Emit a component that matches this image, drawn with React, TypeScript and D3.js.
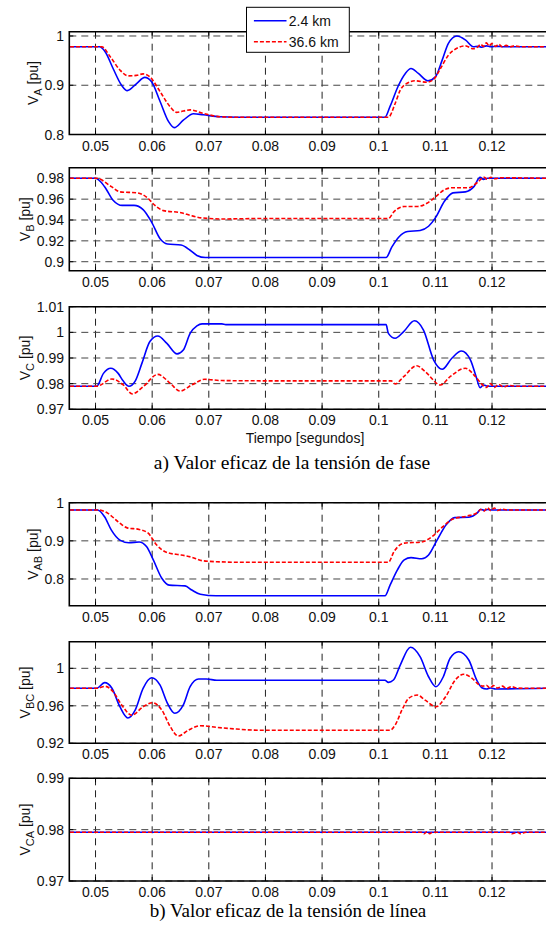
import React from "react";
import * as d3 from "d3";

type Pt = [number, number];

const TIME_TICKS = [0.05, 0.06, 0.07, 0.08, 0.09, 0.1, 0.11, 0.12];
const TIME_TICK_LABELS = ["0.05", "0.06", "0.07", "0.08", "0.09", "0.1", "0.11", "0.12"];
const SERIES_NAMES = ["2.4 km", "36.6 km"];

const VA_TICKS = [0.8, 0.9, 1];
const VB_TICKS = [0.9, 0.92, 0.94, 0.96, 0.98];
const VC_TICKS = [0.97, 0.98, 0.99, 1, 1.01];
const VAB_TICKS = [0.8, 0.9, 1];
const VBC_TICKS = [0.92, 0.96, 1];
const VCA_TICKS = [0.97, 0.98, 0.99];

const va24: Pt[] = [[0.0455,0.978],[0.0507,0.978],[0.0517,0.968],[0.0531,0.934],[0.0546,0.900],[0.0556,0.889],[0.0573,0.904],[0.0587,0.916],[0.0599,0.907],[0.0614,0.867],[0.0629,0.826],[0.0639,0.814],[0.0655,0.829],[0.0673,0.842],[0.0690,0.840],[0.0720,0.836],[0.0750,0.835],[0.1011,0.835],[0.1020,0.857],[0.1035,0.900],[0.1047,0.924],[0.1057,0.934],[0.1070,0.924],[0.1087,0.909],[0.1100,0.917],[0.1112,0.951],[0.1123,0.985],[0.1138,1.000],[0.1153,0.992],[0.1167,0.978],[0.1175,0.979],[0.1182,0.977],[0.1190,0.980],[0.1198,0.978],[0.1210,0.979],[0.1220,0.978],[0.1296,0.978]];
const va366: Pt[] = [[0.0455,0.978],[0.0511,0.978],[0.0526,0.958],[0.0543,0.931],[0.0558,0.919],[0.0572,0.920],[0.0584,0.923],[0.0596,0.917],[0.0614,0.887],[0.0632,0.856],[0.0643,0.845],[0.0667,0.850],[0.0690,0.843],[0.0720,0.836],[0.0750,0.835],[0.1017,0.835],[0.1029,0.863],[0.1038,0.890],[0.1050,0.904],[0.1064,0.909],[0.1085,0.906],[0.1097,0.912],[0.1109,0.934],[0.1123,0.961],[0.1138,0.975],[0.1153,0.980],[0.1167,0.974],[0.1175,0.978],[0.1180,0.983],[0.1185,0.979],[0.1190,0.986],[0.1195,0.980],[0.1200,0.985],[0.1206,0.979],[0.1212,0.983],[0.1218,0.978],[0.1225,0.981],[0.1232,0.978],[0.1240,0.980],[0.1250,0.978],[0.1296,0.978]];

const vb24: Pt[] = [[0.0455,0.98],[0.0500,0.98],[0.0516,0.972],[0.0531,0.959],[0.0547,0.954],[0.0568,0.954],[0.0584,0.950],[0.0599,0.938],[0.0614,0.922],[0.0627,0.917],[0.0651,0.916],[0.0667,0.911],[0.0679,0.906],[0.0694,0.904],[0.1013,0.904],[0.1023,0.914],[0.1036,0.924],[0.1051,0.929],[0.1073,0.930],[0.1088,0.934],[0.1100,0.942],[0.1116,0.958],[0.1131,0.966],[0.1153,0.967],[0.1168,0.972],[0.1179,0.981],[0.1185,0.979],[0.1192,0.980],[0.1296,0.98]];
const vb366: Pt[] = [[0.0455,0.98],[0.0502,0.98],[0.0528,0.972],[0.0543,0.967],[0.0574,0.966],[0.0590,0.962],[0.0605,0.954],[0.0620,0.949],[0.0651,0.947],[0.0670,0.944],[0.0688,0.942],[0.0725,0.941],[0.0800,0.9415],[0.1017,0.9415],[0.1027,0.948],[0.1045,0.953],[0.1069,0.953],[0.1085,0.956],[0.1100,0.962],[0.1116,0.969],[0.1131,0.971],[0.1159,0.971],[0.1174,0.976],[0.1186,0.981],[0.1192,0.979],[0.1198,0.981],[0.1205,0.9795],[0.1215,0.9805],[0.1296,0.98]];

const vc24: Pt[] = [[0.0455,0.979],[0.0502,0.979],[0.0514,0.984],[0.0527,0.986],[0.0540,0.984],[0.0549,0.981],[0.0559,0.979],[0.0570,0.981],[0.0582,0.988],[0.0596,0.9964],[0.0610,0.9986],[0.0626,0.9957],[0.0644,0.9916],[0.0655,0.9931],[0.0667,0.9996],[0.0679,1.0025],[0.0688,1.0033],[0.0723,1.0033],[0.0730,1.003],[0.1013,1.003],[0.1017,0.9996],[0.1029,0.9977],[0.1044,1.0003],[0.1063,1.0045],[0.1079,1.0009],[0.1097,0.9892],[0.1112,0.9856],[0.1129,0.9899],[0.1146,0.9927],[0.1162,0.9892],[0.1172,0.9827],[0.1179,0.9784],[0.1185,0.9795],[0.1192,0.979],[0.1296,0.979]];
const vc366: Pt[] = [[0.0455,0.979],[0.0502,0.979],[0.0529,0.9818],[0.0549,0.9795],[0.0565,0.976],[0.0584,0.9788],[0.0610,0.9836],[0.0632,0.9801],[0.0649,0.9771],[0.0670,0.9795],[0.0693,0.9817],[0.0723,0.9812],[0.0800,0.9811],[0.1022,0.9811],[0.1029,0.9799],[0.1044,0.9827],[0.1067,0.9870],[0.1082,0.9847],[0.1109,0.9795],[0.1126,0.9827],[0.1153,0.9860],[0.1171,0.9827],[0.1182,0.9798],[0.1190,0.9785],[0.1197,0.980],[0.1204,0.9785],[0.1212,0.9797],[0.1220,0.9787],[0.1230,0.9793],[0.1240,0.979],[0.1296,0.979]];

const vab24: Pt[] = [[0.0455,0.981],[0.0504,0.981],[0.0516,0.963],[0.0528,0.928],[0.0543,0.902],[0.0559,0.895],[0.0577,0.897],[0.0590,0.885],[0.0602,0.850],[0.0617,0.802],[0.0630,0.784],[0.0658,0.782],[0.0670,0.771],[0.0685,0.760],[0.0713,0.756],[0.1011,0.756],[0.1020,0.784],[0.1033,0.824],[0.1045,0.850],[0.1057,0.856],[0.1076,0.853],[0.1088,0.863],[0.1103,0.902],[0.1119,0.942],[0.1134,0.961],[0.1159,0.962],[0.1174,0.973],[0.1180,0.983],[0.1186,0.980],[0.1192,0.982],[0.1200,0.981],[0.1296,0.981]];
const vab366: Pt[] = [[0.0455,0.981],[0.0505,0.981],[0.0522,0.972],[0.0540,0.950],[0.0556,0.934],[0.0577,0.930],[0.0593,0.920],[0.0608,0.889],[0.0627,0.869],[0.0651,0.863],[0.0670,0.857],[0.0688,0.848],[0.0719,0.845],[0.0750,0.844],[0.1017,0.844],[0.1027,0.872],[0.1045,0.894],[0.1076,0.897],[0.1094,0.911],[0.1113,0.937],[0.1131,0.957],[0.1156,0.965],[0.1174,0.974],[0.1180,0.982],[0.1186,0.978],[0.1192,0.987],[0.1198,0.979],[0.1204,0.986],[0.1210,0.980],[0.1218,0.983],[0.1226,0.981],[0.1296,0.981]];

const vbc24: Pt[] = [[0.0455,0.9787],[0.0502,0.9787],[0.0516,0.9847],[0.0529,0.9787],[0.0543,0.959],[0.0557,0.947],[0.0570,0.9555],[0.0584,0.9787],[0.0599,0.990],[0.0614,0.982],[0.0626,0.964],[0.0640,0.952],[0.0655,0.961],[0.0667,0.9804],[0.0682,0.9886],[0.0696,0.9886],[0.0714,0.9872],[0.1011,0.9872],[0.1017,0.985],[0.1026,0.9875],[0.1038,1.0035],[0.1056,1.0224],[0.1073,1.0124],[0.1088,0.991],[0.1101,0.9804],[0.1114,0.991],[0.1126,1.0107],[0.1141,1.0177],[0.1159,1.0089],[0.1173,0.9875],[0.1182,0.9793],[0.1190,0.978],[0.1198,0.979],[0.1206,0.978],[0.1296,0.9787]];
const vbc366: Pt[] = [[0.0455,0.9787],[0.0503,0.9787],[0.0517,0.9808],[0.0531,0.975],[0.0546,0.961],[0.0564,0.950],[0.0584,0.959],[0.0601,0.9633],[0.0617,0.9555],[0.0632,0.9377],[0.0646,0.9278],[0.0664,0.934],[0.0685,0.9388],[0.0714,0.9370],[0.0749,0.9352],[0.0787,0.934],[0.1020,0.934],[0.1029,0.9395],[0.1041,0.9555],[0.1053,0.968],[0.1068,0.9715],[0.1082,0.966],[0.1101,0.959],[0.1118,0.9697],[0.1135,0.9875],[0.1150,0.9936],[0.1165,0.9893],[0.1176,0.983],[0.1184,0.981],[0.1190,0.982],[0.1196,0.979],[0.1203,0.9815],[0.1210,0.979],[0.1218,0.981],[0.1226,0.9785],[0.1234,0.9805],[0.1243,0.979],[0.1255,0.9787],[0.1296,0.9787]];

const vca24: Pt[] = [[0.0455,0.9795],[0.1296,0.9795]];
const vca366: Pt[] = [[0.0455,0.9795],[0.1075,0.9795],[0.1080,0.9792],[0.1085,0.9796],[0.1090,0.9792],[0.1095,0.9795],[0.1230,0.9795],[0.1235,0.9792],[0.1245,0.9795],[0.1250,0.9792],[0.1260,0.9795],[0.1296,0.9795]];

const X_DOMAIN: [number, number] = [0.04537, 0.12953];

type Panel = {
  sub: string;
  top: number;
  bottom: number;
  domain: [number, number];
  ticks: number[];
  blue: Pt[];
  red: Pt[];
  legend?: boolean;
};

const panels: Panel[] = [
  { sub: "A", top: 31.7, bottom: 134.5, domain: [0.8, 1.0087], ticks: VA_TICKS, blue: va24, red: va366, legend: true },
  { sub: "B", top: 167.7, bottom: 270.7, domain: [0.89137, 0.99017], ticks: VB_TICKS, blue: vb24, red: vb366 },
  { sub: "C", top: 306.7, bottom: 409.3, domain: [0.97, 1.01], ticks: VC_TICKS, blue: vc24, red: vc366 },
  { sub: "AB", top: 502.7, bottom: 605.7, domain: [0.73, 1.0], ticks: VAB_TICKS, blue: vab24, red: vab366 },
  { sub: "BC", top: 641.7, bottom: 743.3, domain: [0.92, 1.0284], ticks: VBC_TICKS, blue: vbc24, red: vbc366 },
  { sub: "CA", top: 778.3, bottom: 881, domain: [0.97, 0.99], ticks: VCA_TICKS, blue: vca24, red: vca366 },
];

const LEFT = 69.3;
const RIGHT = 546;
const SANS = "'Liberation Sans', Arial, Helvetica, sans-serif";
const SERIF = "'Liberation Serif', 'Times New Roman', Times, serif";
const BLUE = "#0000ff";
const RED = "#ff0000";

function fmt(v: number) {
  return String(+v.toFixed(3));
}

function PanelView({ p, idx }: { p: Panel; idx: number }) {
  const x = d3.scaleLinear().domain(X_DOMAIN).range([LEFT, RIGHT]);
  const y = d3.scaleLinear().domain(p.domain).range([p.bottom, p.top]);
  const line = d3
    .line<Pt>()
    .x((d) => x(d[0]))
    .y((d) => y(d[1]))
    .curve(d3.curveMonotoneX);
  const clipId = `clip${idx}`;
  const maxLen = d3.max(p.ticks.map((t) => fmt(t).length)) || 3;
  const labelW = maxLen === 4 ? 27.2 : 19.5;
  const ylabX = 64 - labelW - 7;
  const cy = (p.top + p.bottom) / 2;
  return (
    <g>
      <defs>
        <clipPath id={clipId}>
          <rect x={LEFT} y={p.top} width={RIGHT - LEFT + 4} height={p.bottom - p.top} />
        </clipPath>
      </defs>
      <rect x={LEFT} y={p.top} width={RIGHT - LEFT + 4} height={p.bottom - p.top} fill="#fff" />
      {TIME_TICKS.map((t) => (
        <line key={"gx" + t} x1={x(t)} x2={x(t)} y1={p.top} y2={p.bottom} stroke="#222" strokeWidth={1} strokeDasharray="7,5" />
      ))}
      {p.ticks.map((t) => (
        <line key={"gy" + t} x1={LEFT} x2={RIGHT + 4} y1={y(t)} y2={y(t)} stroke="#444" strokeWidth={1} strokeDasharray="7,5" />
      ))}
      {TIME_TICKS.map((t) => (
        <g key={"tx" + t}>
          <line x1={x(t)} x2={x(t)} y1={p.bottom} y2={p.bottom - 4} stroke="#000" />
          <line x1={x(t)} x2={x(t)} y1={p.top} y2={p.top + 4} stroke="#000" />
        </g>
      ))}
      {p.ticks.map((t) => (
        <line key={"ty" + t} x1={LEFT} x2={LEFT + 4} y1={y(t)} y2={y(t)} stroke="#000" />
      ))}
      <g clipPath={`url(#${clipId})`}>
        <path d={line(p.blue) || ""} fill="none" stroke={BLUE} strokeWidth={1.6} strokeLinejoin="round" />
        <path d={line(p.red) || ""} fill="none" stroke={RED} strokeWidth={1.6} strokeDasharray="4,2" />
      </g>
      <path d={`M${RIGHT + 4},${p.top}H${LEFT}V${p.bottom}H${RIGHT + 4}`} fill="none" stroke="#000" strokeWidth={1.6} />
      {TIME_TICKS.map((t, i) => (
        <text key={"lx" + t} x={x(t)} y={p.bottom + 16} textAnchor="middle" fontFamily={SANS} fontSize={14} fill="#111">
          {TIME_TICK_LABELS[i]}
        </text>
      ))}
      {p.ticks.map((t) => (
        <text key={"ly" + t} x={64} y={y(t)} dy="0.36em" textAnchor="end" fontFamily={SANS} fontSize={14} fill="#111">
          {fmt(t)}
        </text>
      ))}
      <text transform={`translate(${ylabX},${cy}) rotate(-90)`} textAnchor="middle" fontFamily={SANS} fontSize={14} fill="#111">
        V<tspan dy={4} fontSize={11}>{p.sub}</tspan>
        <tspan dy={-4}> [pu]</tspan>
      </text>
      {p.legend && (
        <g>
          <rect x={246.5} y={7.3} width={102.8} height={45} fill="#fff" stroke="#000" strokeWidth={1} />
          <line x1={253.9} x2={286.5} y1={20.7} y2={20.7} stroke={BLUE} strokeWidth={1.6} />
          <line x1={253.9} x2={286.5} y1={41.7} y2={41.7} stroke={RED} strokeWidth={1.6} strokeDasharray="4,2" />
          <text x={288.8} y={20.7} dy="0.36em" fontFamily={SANS} fontSize={14} fill="#111">{SERIES_NAMES[0]}</text>
          <text x={288.8} y={41.7} dy="0.36em" fontFamily={SANS} fontSize={14} fill="#111">{SERIES_NAMES[1]}</text>
        </g>
      )}
    </g>
  );
}

export default function App() {
  return (
    <svg width={546} height={926} style={{ position: "absolute", left: 0, top: 0, background: "#fff" }}>
      <rect x={0} y={0} width={546} height={926} fill="#fff" />
      {panels.map((p, i) => (
        <PanelView key={i} p={p} idx={i} />
      ))}
      <text x={305} y={443} textAnchor="middle" fontFamily={SANS} fontSize={14} fill="#111">Tiempo [segundos]</text>
      <text x={292} y={469} textAnchor="middle" fontFamily={SERIF} fontSize={19.5} fill="#000">a) Valor eficaz de la tensión de fase</text>
      <text x={288} y={917} textAnchor="middle" fontFamily={SERIF} fontSize={19} fill="#000">b) Valor eficaz de la tensión de línea</text>
    </svg>
  );
}
